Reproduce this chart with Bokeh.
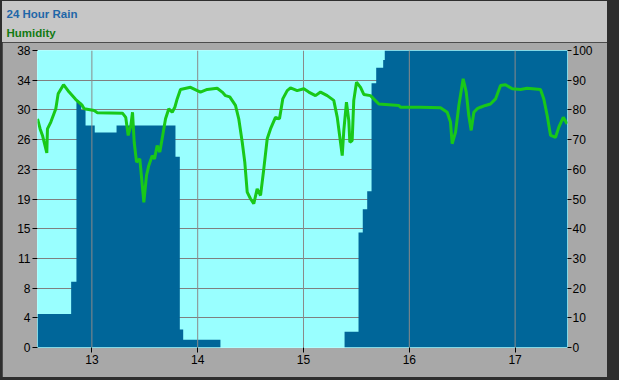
from bokeh.plotting import figure
from bokeh.models import Range1d, LinearAxis, FixedTicker, Title
from bokeh.layouts import column
from bokeh.embed import file_html
from bokeh.resources import INLINE

# ---- data ----
rain_x = [12.486, 12.804, 12.854, 12.899, 12.940, 13.027, 13.233, 13.790, 13.831,
          13.863, 14.215, 15.388, 15.520, 15.560, 15.602, 15.643, 15.687, 15.753,
          15.768, 17.495]
rain = [4.3, 8.4, 31.4, 30.4, 28.4, 27.5, 28.4, 24.4, 2.3,
        1.0, 0.0, 2.0, 14.7, 17.7, 20.0, 33.8, 35.8, 36.8,
        38.0, 38.0]

hum_x = [12.486, 12.511, 12.533, 12.574, 12.580, 12.612, 12.659, 12.681, 12.732, 12.785,
         12.848, 12.905, 12.927, 13.022, 13.053, 13.289, 13.320, 13.343, 13.368, 13.384,
         13.400, 13.422, 13.453, 13.491, 13.516, 13.538, 13.570, 13.592, 13.617, 13.642,
         13.664, 13.696, 13.727, 13.759, 13.784, 13.806, 13.837, 13.932, 14.026, 14.090,
         14.184, 14.232, 14.263, 14.303, 14.357, 14.388, 14.421, 14.445, 14.468, 14.499,
         14.530, 14.562, 14.594, 14.625, 14.657, 14.688, 14.735, 14.773, 14.804, 14.846,
         14.877, 14.940, 15.003, 15.050, 15.113, 15.161, 15.224, 15.286, 15.319, 15.366,
         15.381, 15.406, 15.428, 15.438, 15.460, 15.475, 15.501, 15.539, 15.570, 15.633,
         15.712, 15.901, 15.917, 16.106, 16.295, 16.358, 16.389, 16.405, 16.437, 16.468,
         16.509, 16.538, 16.562, 16.585, 16.610, 16.642, 16.673, 16.720, 16.767, 16.815,
         16.862, 16.909, 16.973, 17.051, 17.114, 17.240, 17.271, 17.303, 17.335, 17.382,
         17.413, 17.455, 17.492]
hum = [77.0, 73.6, 71.4, 65.5, 73.6, 75.9, 80.4, 85.4, 88.5, 86.0,
       83.5, 81.7, 80.4, 79.8, 79.0, 78.9, 77.5, 71.4, 74.7, 79.2,
       69.1, 62.4, 63.5, 48.9, 57.9, 61.3, 64.6, 63.5, 68.0, 65.8,
       70.3, 77.0, 80.4, 79.2, 80.9, 83.7, 86.9, 87.6, 86.0, 86.9,
       87.3, 86.0, 84.8, 84.4, 81.5, 77.0, 69.1, 62.4, 52.3, 50.1,
       48.4, 53.4, 51.2, 60.2, 70.3, 73.6, 77.5, 77.0, 83.7, 86.5,
       87.4, 86.5, 87.1, 86.0, 84.8, 86.0, 84.8, 83.2, 77.5, 64.6,
       73.1, 82.6, 76.4, 69.1, 69.7, 83.2, 89.3, 87.6, 85.2, 84.8,
       82.0, 81.5, 80.9, 80.9, 80.7, 79.2, 75.9, 68.6, 72.5, 81.5,
       90.5, 86.0, 78.1, 73.1, 79.2, 80.4, 80.9, 81.5, 82.0, 83.7,
       88.2, 88.5, 87.1, 86.9, 87.3, 86.9, 83.7, 78.1, 71.4, 70.8,
       74.2, 77.5, 75.3]

x_ticks = [13, 14, 15, 16, 17]
rain_ticks = [0, 3.8, 7.6, 11.4, 15.2, 19.0, 22.8, 26.6, 30.4, 34.2, 38.0]
rain_tick_labels = ["0", "4", "8", "11", "15", "19", "23", "26", "30", "34", "38"]
hum_ticks = [0, 10, 20, 30, 40, 50, 60, 70, 80, 90, 100]
legend_names = ["24 Hour Rain", "Humidity"]

FONT = "Liberation Sans"
HEADER_BG = "#C6C6C6"

# ---- header band with the two series names ----
header = figure(width=605, height=41, output_backend="svg", toolbar_location=None,
                x_range=Range1d(0, 1), y_range=Range1d(0, 1),
                x_axis_location=None, y_axis_location=None,
                min_border_left=35, min_border_right=40, min_border_top=2, min_border_bottom=0,
                background_fill_color=None, border_fill_color=HEADER_BG,
                outline_line_color=None)
header.grid.visible = False
header.add_layout(Title(text=legend_names[1], align="left", offset=-31, standoff=0,
                        text_font=FONT, text_font_size="11.5px", text_font_style="bold",
                        text_color="#137a13"), "above")
header.add_layout(Title(text=legend_names[0], align="left", offset=-31, standoff=9,
                        text_font=FONT, text_font_size="11.5px", text_font_style="bold",
                        text_color="#1f66a8"), "above")
header_box = column(header, styles={"background-color": HEADER_BG}, margin=(1, 12, 0, 2))

# ---- main chart ----
p = figure(width=605, height=335, output_backend="svg", toolbar_location=None,
           x_range=Range1d(12.486, 17.495), y_range=Range1d(0, 38),
           min_border_left=35, min_border_right=40, min_border_top=8, min_border_bottom=30,
           background_fill_color="#99FFFF", border_fill_color="#A8A8A8",
           outline_line_color="#B0FFFF", margin=(0, 12, 3, 2))
p.extra_y_ranges = {"hum": Range1d(0, 100)}

p.xaxis.ticker = FixedTicker(ticks=x_ticks)
p.yaxis.ticker = FixedTicker(ticks=rain_ticks)
p.yaxis.major_label_overrides = dict(zip(rain_ticks, rain_tick_labels))

right = LinearAxis(y_range_name="hum", ticker=FixedTicker(ticks=hum_ticks))
p.add_layout(right, "right")

for ax in [p.xaxis[0], p.yaxis[0], right]:
    ax.axis_line_color = None
    ax.major_tick_line_color = "black"
    ax.major_tick_in = 0
    ax.major_tick_out = 5
    ax.minor_tick_line_color = None
    ax.major_label_text_font = FONT
    ax.major_label_text_font_size = "12px"
    ax.major_label_text_color = "black"
    ax.major_label_standoff = 2
right.major_tick_out = 4
right.major_label_standoff = 1

p.xgrid.visible = False
p.ygrid.grid_line_color = "#808080"

p.varea_step(x=rain_x, y1=[0] * len(rain_x), y2=rain, step_mode="after",
             fill_color="#006699")
p.segment(x0=x_ticks, y0=[0] * len(x_ticks), x1=x_ticks, y1=[38] * len(x_ticks),
          line_color="#8a8a8a", line_width=1)
p.line(hum_x, hum, y_range_name="hum", line_color="#19C819", line_width=3)

layout = column(header_box, p, styles={"background-color": "#2e2e2e"})

open("out.html", "w").write(file_html(layout, INLINE))
